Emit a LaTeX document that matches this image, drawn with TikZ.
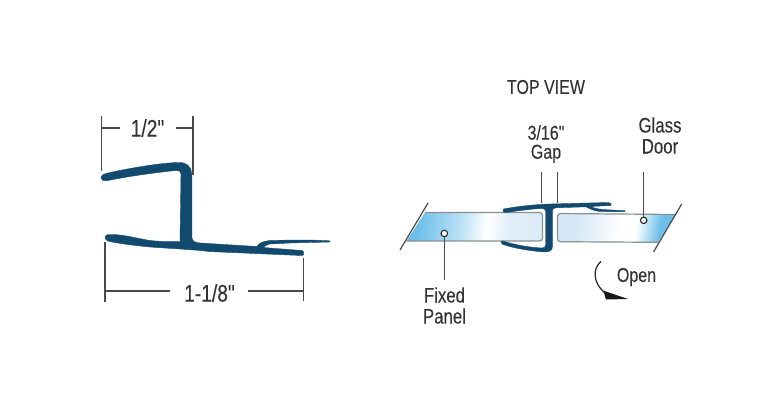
\documentclass[tikz,border=0pt]{standalone}
\usepackage{fontspec}
\setmainfont[FakeStretch=0.8,FakeBold=0.15,Ligatures=TeXOff]{Liberation Sans}
\definecolor{profile}{HTML}{12496F}
\definecolor{dimline}{HTML}{4A4A4A}
\definecolor{glassedge}{HTML}{8A8F92}
\definecolor{glassblue}{HTML}{6DBFEA}
\definecolor{glasspale}{HTML}{D3E7F6}
\pgfdeclarehorizontalshading{glassleft}{100bp}{
 color(0bp)=(glassblue); color(27bp)=(glassblue); color(45bp)=(white!55!glassblue); color(55bp)=(white); color(64bp)=(glasspale!70!white); color(100bp)=(glasspale)}
\pgfdeclarehorizontalshading{glassright}{100bp}{
 color(0bp)=(glasspale); color(30bp)=(glasspale); color(52bp)=(white); color(59bp)=(white); color(70bp)=(glassblue); color(100bp)=(glassblue)}
\tikzset{
 lbl/.style={text=black!80,font=\fontsize{20}{21}\selectfont,inner sep=0pt,align=center},
 lblmid/.style={lbl,font=\fontsize{21}{21}\selectfont},
 lblbig/.style={lbl,font=\fontsize{24}{26}\selectfont},
 dimstroke/.style={draw=dimline,line width=1.2pt},
 glassbox/.style={draw=glassedge,line width=1.2pt,rounded corners=3pt},
 prof/.style={fill=profile,draw=profile,line width=.4pt,line join=round},
 ring/.style={circle,draw=black!85,fill=white,line width=1.1pt,minimum size=6.5pt,inner sep=0pt}
}
\begin{document}
\begin{tikzpicture}[x=1pt,y=-1pt]
\useasboundingbox (0,0) rectangle (758,412);
% left profile
\path[prof] (101,178) .. controls (101,175) and (104,174) .. (108,173)
 .. controls (130,168) and (160,163) .. (178,162.5)
 .. controls (187,162) and (191.5,167) .. (191.8,174)
 -- (192,238) .. controls (192.5,241.5) and (195,242.5) .. (200,243)
 -- (257,246.5) .. controls (259,243) and (263,241) .. (272,240.3)
 -- (310,240) -- (330,240.8) -- (330,242) -- (290,243) -- (270,244)
 .. controls (266,245) and (264,246.5) .. (263,247.5)
 -- (302,250.5) -- (303.5,252) -- (303.5,255) -- (301,255.5)
 -- (208,251.5) .. controls (200,250) and (170,248.5) .. (150,247)
 .. controls (130,245) and (115,243) .. (108,241)
 .. controls (104.5,240) and (104,235) .. (108,234.5)
 .. controls (122,234) and (135,238) .. (150,240.5)
 .. controls (160,241.5) and (170,242) .. (180,241.5)
 -- (181,174) .. controls (181,171.5) and (179.5,170.5) .. (176,170.5)
 .. controls (160,172) and (130,176) .. (108,180.5)
 .. controls (103,181) and (101,180.5) .. (101,178) -- cycle;
% left dimensions
\node[lblbig] (half) at (147.5,128) {1/2"};
\node[lblbig] (whole) at (209.5,293) {1-1/8"};
\coordinate (hl) at (101.3,128); \coordinate (hr) at (193,128);
\coordinate (wl) at (105,291); \coordinate (wr) at (303.7,291);
\draw[dimstroke] (101.3,116) -- (101.3,171);
\draw[dimstroke] (193,116) -- (193,175);
\draw[dimstroke] (105,242) -- (105,302);
\draw[dimstroke] (303.7,258) -- (303.7,301);
\draw[dimstroke] (hl) -- (120,128);
\draw[dimstroke] (hr) -- (176,128);
\draw[dimstroke] (wl) -- (170,291);
\draw[dimstroke] (wr) -- (248,291);
% glass panels
\path[shading=glassleft,shading angle=-8] (425,212.5) -- (542.5,212.5) -- (542.5,241) -- (406.5,241) -- cycle;
\path[shading=glassright,shading angle=-8] (676,214.5) -- (557.5,213.5) -- (557.5,241.7) -- (658,242.3) -- cycle;
\draw[glassbox] (425,212.5) -- (542.5,212.5) -- (542.5,241) -- (406.5,241);
\draw[glassbox] (676,214.5) -- (557.5,213.5) -- (557.5,241.7) -- (658,242.3);
\draw[dimstroke] (428,203) -- (400,250);
\draw[dimstroke] (681.7,204) -- (653.5,252);
% right profile
\path[prof] (503.5,209) .. controls (520,206) and (535,204.5) .. (550,204)
 -- (608,202.5) -- (611,203.5) -- (611,205.5) -- (590,206.5)
 .. controls (595,208.5) and (600,209.5) .. (606,209.7) -- (625,210.7) -- (625,211.7)
 -- (600,211.5) .. controls (594,211) and (590,209) .. (586,206.8)
 -- (556,207.8) .. controls (553,208) and (552.5,209) .. (552.5,211)
 -- (552.5,246) .. controls (552.5,250) and (550,252) .. (545,252)
 .. controls (530,251) and (512,248) .. (502,244)
 -- (501,241.5) -- (503,241) .. controls (515,245) and (530,247.5) .. (542,248)
 .. controls (544.5,248) and (545.5,247) .. (545.5,245)
 -- (545.5,211) .. controls (545.5,209.5) and (544.5,208.5) .. (542,208.5)
 .. controls (530,209) and (517,211) .. (505,212.5)
 -- (503,211.5) -- cycle;
% leaders
\node[lbl] (topview) at (546,87) {TOP VIEW};
\node[lbl] (gaplbl) at (546,144) {3/16"\\[-2pt]Gap};
\node[lblmid] (doorlbl) at (660,135.5) {Glass\\Door};
\node[lblmid] (panellbl) at (444.5,305.5) {Fixed\\Panel};
\node[lbl] (openlbl) at (636.5,277) {Open};
\node[ring] (doorpt) at (643.7,220.3) {};
\node[ring] (panelpt) at (444.3,233.5) {};
\draw[dimstroke] (541.7,172) -- (541.7,203);
\draw[dimstroke] (557.7,172) -- (557.7,203);
\draw[dimstroke] (643.7,172) -- (doorpt);
\draw[dimstroke] (panelpt) -- (444.3,280);
% open arrow
\draw[draw=black!85,line width=1.2pt] (601,261.5) .. controls (593,268) and (592,282) .. (605,293);
\fill[black!90] (603,290.5) -- (628,299) -- (606,299.5) .. controls (605,296) and (604,293) .. (603,290.5) -- cycle;
\end{tikzpicture}
\end{document}
